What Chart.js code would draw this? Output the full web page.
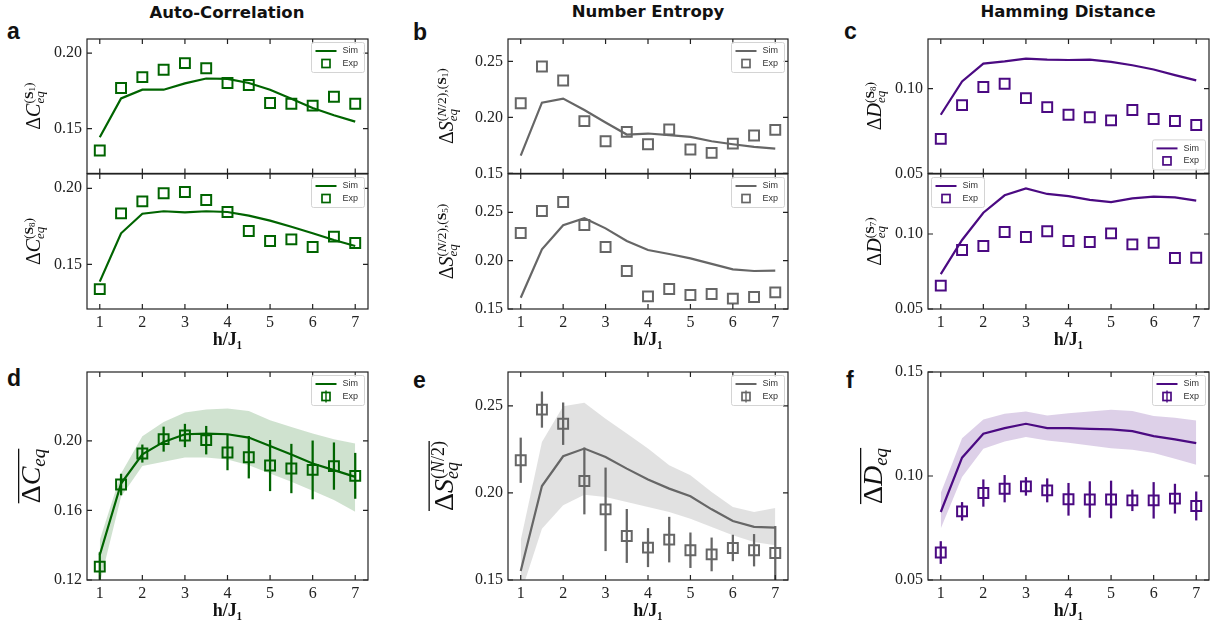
<!DOCTYPE html>
<html>
<head>
<meta charset="utf-8">
<title>Auto-Correlation, Number Entropy, Hamming Distance</title>
<script src="https://cdn.jsdelivr.net/npm/chart.js"></script>
<style>
  body { margin: 0; background: #fff; width: 1219px; height: 627px; position: relative; overflow: hidden; }
  .head { position: absolute; width: 300px; text-align: center; line-height: 18px;
          font: bold 16.5px 'DejaVu Sans', 'Liberation Sans', sans-serif; color: #111; }
  .tag { position: absolute; line-height: 23px; font: bold 23px 'Liberation Sans', Arial, sans-serif; color: #111; }
  canvas { position: absolute; }
</style>
</head>
<body>
<div class="head" style="left:77px; top:3px;">Auto-Correlation</div>
<div class="head" style="left:498px; top:2px;">Number Entropy</div>
<div class="head" style="left:918px; top:2px;">Hamming Distance</div>
<div class="tag" style="left:7px; top:18px;">a</div>
<div class="tag" style="left:413px; top:19px;">b</div>
<div class="tag" style="left:844px; top:18px;">c</div>
<div class="tag" style="left:7px; top:365px;">d</div>
<div class="tag" style="left:413px; top:367px;">e</div>
<div class="tag" style="left:846px; top:367px;">f</div>
<script>
// x values (h/J1) and tick labels
var hJ = [1, 1.5, 2, 2.5, 3, 3.5, 4, 4.5, 5, 5.5, 6, 6.5, 7];
var xTicks = [1, 2, 3, 4, 5, 6, 7];

// auto-correlation
var simC1 = [0.1443, 0.1700, 0.1758, 0.1758, 0.1800, 0.1832, 0.1830, 0.1802, 0.1758, 0.1698, 0.1637, 0.1588, 0.1546];
var expC1 = [0.1355, 0.1769, 0.1841, 0.1890, 0.1934, 0.1900, 0.1802, 0.1789, 0.1670, 0.1665, 0.1652, 0.1711, 0.1665];
var simC8 = [0.1386, 0.1704, 0.1833, 0.1849, 0.1842, 0.1849, 0.1844, 0.1820, 0.1787, 0.1747, 0.1704, 0.1660, 0.1620];
var expC8 = [0.1337, 0.1835, 0.1914, 0.1967, 0.1976, 0.1923, 0.1844, 0.1719, 0.1653, 0.1664, 0.1614, 0.1682, 0.1640];
var simCavg = [0.1344, 0.1755, 0.1923, 0.1994, 0.2038, 0.2042, 0.2038, 0.2019, 0.1971, 0.1922, 0.1870, 0.1832, 0.1793];
var simCavgHi = [0.1430, 0.1812, 0.2027, 0.2109, 0.2163, 0.2180, 0.2186, 0.2172, 0.2119, 0.2080, 0.2042, 0.2010, 0.1985];
var simCavgLo = [0.1180, 0.1678, 0.1855, 0.1880, 0.1904, 0.1904, 0.1893, 0.1860, 0.1812, 0.1765, 0.1713, 0.1660, 0.1592];
var expCavg = [0.1277, 0.1749, 0.1927, 0.2010, 0.2031, 0.2004, 0.1933, 0.1906, 0.1858, 0.1841, 0.1833, 0.1855, 0.1799];
var errCavg = [0.0080, 0.0060, 0.0050, 0.0070, 0.0065, 0.0080, 0.0100, 0.0120, 0.0145, 0.0140, 0.0167, 0.0134, 0.0130];

// number entropy
var simS1 = [0.1659, 0.2132, 0.2168, 0.2066, 0.1955, 0.1847, 0.1856, 0.1841, 0.1826, 0.1787, 0.1760, 0.1737, 0.1722];
var expS1 = [0.2126, 0.2455, 0.2329, 0.1967, 0.1787, 0.1871, 0.1760, 0.1892, 0.1713, 0.1683, 0.1766, 0.1838, 0.1889];
var simS5 = [0.1617, 0.2117, 0.2366, 0.2438, 0.2334, 0.2203, 0.2110, 0.2069, 0.2024, 0.1966, 0.1910, 0.1893, 0.1897];
var expS5 = [0.2286, 0.2514, 0.2607, 0.2369, 0.2141, 0.1893, 0.1631, 0.1707, 0.1645, 0.1655, 0.1607, 0.1624, 0.1672];
var simSavg = [0.1552, 0.2040, 0.2211, 0.2255, 0.2207, 0.2140, 0.2077, 0.2025, 0.1981, 0.1906, 0.1839, 0.1805, 0.1801];
var simSavgHi = [0.1728, 0.2293, 0.2498, 0.2519, 0.2427, 0.2341, 0.2255, 0.2159, 0.2102, 0.2006, 0.1920, 0.1891, 0.1914];
var simSavgLo = [0.1420, 0.1795, 0.1929, 0.1990, 0.1977, 0.1948, 0.1920, 0.1891, 0.1852, 0.1805, 0.1757, 0.1718, 0.1699];
var expSavg = [0.2188, 0.2479, 0.2398, 0.2069, 0.1906, 0.1753, 0.1686, 0.1732, 0.1671, 0.1647, 0.1684, 0.1671, 0.1655];
var errSavg = [0.0128, 0.0102, 0.0120, 0.0190, 0.0238, 0.0153, 0.0110, 0.0129, 0.0100, 0.0095, 0.0074, 0.0091, 0.0153];

// hamming distance
var simD8 = [0.0846, 0.1043, 0.1148, 0.1161, 0.1177, 0.1171, 0.1169, 0.1171, 0.1158, 0.1138, 0.1113, 0.1080, 0.1049];
var expD8 = [0.0704, 0.0903, 0.1010, 0.1029, 0.0944, 0.0891, 0.0846, 0.0831, 0.0813, 0.0874, 0.0821, 0.0809, 0.0786];
var simD7 = [0.0733, 0.0960, 0.1142, 0.1258, 0.1304, 0.1267, 0.1253, 0.1227, 0.1213, 0.1238, 0.1249, 0.1244, 0.1222];
var expD7 = [0.0656, 0.0893, 0.0920, 0.1013, 0.0980, 0.1018, 0.0953, 0.0947, 0.1004, 0.0931, 0.0942, 0.0840, 0.0842];
var simDavg = [0.0827, 0.1088, 0.1203, 0.1230, 0.1251, 0.1230, 0.1230, 0.1227, 0.1224, 0.1216, 0.1192, 0.1176, 0.1158];
var simDavgHi = [0.0918, 0.1182, 0.1272, 0.1299, 0.1310, 0.1291, 0.1302, 0.1310, 0.1318, 0.1312, 0.1288, 0.1280, 0.1267];
var simDavgLo = [0.0747, 0.0995, 0.1131, 0.1166, 0.1187, 0.1171, 0.1160, 0.1147, 0.1134, 0.1126, 0.1110, 0.1083, 0.1054];
var expDavg = [0.0632, 0.0830, 0.0918, 0.0939, 0.0950, 0.0931, 0.0888, 0.0887, 0.0887, 0.0883, 0.0883, 0.0891, 0.0856];
var errDavg = [0.0053, 0.0043, 0.0064, 0.0064, 0.0043, 0.0056, 0.0077, 0.0086, 0.0089, 0.0050, 0.0086, 0.0070, 0.0068];

// y tick labels
var yTicksC = [0.15, 0.20];
var yTicksCavg = [0.12, 0.16, 0.20];
var yTicksS = [0.15, 0.20, 0.25];
var yTicksD = [0.05, 0.10];
var yTicksDavg = [0.05, 0.10, 0.15];

var GREEN = '#006400', GRAY = '#666666', PURPLE = '#4b0a82';
var SERIF = "'Liberation Serif', 'DejaVu Serif', serif";
var SANS = "'Liberation Sans', Arial, sans-serif";

// plot area edges in page pixels
var COLS = [[87, 368], [508, 788], [928, 1209]];
var ROWS = [[39, 174], [174, 309], [372, 580]];
var PAD_L = 80, PAD_T = 20, PAD_R = 12;

function F(size, style) {
  return (style ? style + ' ' : '') + size + 'px ' + SERIF;
}

// superscript "(S_n)"
function supS(n, size, dy) {
  return [
    {t: '(', f: F(size), dy: dy},
    {t: 'S', f: F(size, 'bold'), dy: dy},
    {t: n, f: F(Math.round(size * 0.7)), dy: dy - 2},
    {t: ')', f: F(size), dy: dy}
  ];
}

function topLabel(sym, sup) {
  return [{t: 'Δ', f: F(20)}, {t: sym, f: F(20, 'italic')}, {mark: 1}]
    .concat(sup, [{back: 1}, {t: 'eq', f: F(13, 'italic'), dy: -4}]);
}

function entropySup(n) {
  return [{t: '(', f: F(13.5), dy: 7}, {t: 'N', f: F(13.5, 'italic'), dy: 7}, {t: '/2),', f: F(13.5), dy: 7}]
    .concat(supS(n, 13.5, 7));
}

// rotated label with sub/superscripts
function drawMath(ctx, parts, bx, cy, over) {
  var x = 0, mark = 0, maxX = 0, placed = [];
  parts.forEach(function(p) {
    if (p.mark) { mark = x; return; }
    if (p.back) { x = mark; return; }
    ctx.font = p.f;
    placed.push({p: p, x: x});
    x += ctx.measureText(p.t).width;
    maxX = Math.max(maxX, x);
  });
  ctx.save();
  ctx.translate(bx, cy);
  ctx.rotate(-Math.PI / 2);
  ctx.fillStyle = '#111';
  ctx.textBaseline = 'alphabetic';
  var x0 = -maxX / 2;
  placed.forEach(function(it) {
    ctx.font = it.p.f;
    ctx.fillText(it.p.t, x0 + it.x, -(it.p.dy || 0));
  });
  if (over) ctx.fillRect(x0, -over, maxX, 1.3);
  ctx.restore();
}

function drawLegend(ctx, a, lg) {
  var w = 53, h = 30, inset = 3.5;
  var bx = lg.corner.indexOf('e') >= 0 ? a.right - inset - w : a.left + inset;
  var by = lg.corner.indexOf('n') >= 0 ? a.top + inset : a.bottom - inset - h;
  ctx.save();
  ctx.beginPath();
  if (ctx.roundRect) ctx.roundRect(bx, by, w, h, 2); else ctx.rect(bx, by, w, h);
  ctx.fillStyle = 'rgba(255,255,255,0.8)';
  ctx.fill();
  ctx.strokeStyle = '#d4d4d4';
  ctx.lineWidth = 1;
  ctx.stroke();
  ctx.strokeStyle = lg.color;
  ctx.lineWidth = 2;
  ctx.beginPath();
  ctx.moveTo(bx + 4, by + 8.5);
  ctx.lineTo(bx + 25, by + 8.5);
  ctx.stroke();
  var cx = bx + 14.5, cy = by + 21;
  ctx.lineWidth = 1.7;
  ctx.strokeRect(cx - 4, cy - 4, 8, 8);
  if (lg.err) {
    ctx.lineWidth = 1.4;
    ctx.beginPath();
    ctx.moveTo(cx, cy - 6);
    ctx.lineTo(cx, cy + 6);
    ctx.stroke();
  }
  ctx.fillStyle = '#333';
  ctx.font = '9px ' + SANS;
  ctx.textBaseline = 'middle';
  ctx.fillText('Sim', bx + 31, by + 8.5);
  ctx.fillText('Exp', bx + 31, by + 21);
  ctx.restore();
}

// box frame with inward ticks on all sides, legend and y label
var decor = {
  id: 'decor',
  afterDraw: function(chart, args, opts) {
    var ctx = chart.ctx, a = chart.chartArea;
    var xs = chart.scales.x, ys = chart.scales.y;
    ctx.save();
    ctx.strokeStyle = '#222';
    ctx.lineWidth = 1.2;
    ctx.beginPath();
    xs.ticks.forEach(function(t) {
      var px = xs.getPixelForValue(t.value);
      ctx.moveTo(px, a.bottom); ctx.lineTo(px, a.bottom - 5);
      ctx.moveTo(px, a.top); ctx.lineTo(px, a.top + 5);
    });
    ys.ticks.forEach(function(t) {
      var py = ys.getPixelForValue(t.value);
      ctx.moveTo(a.left, py); ctx.lineTo(a.left + 5, py);
      ctx.moveTo(a.right, py); ctx.lineTo(a.right - 5, py);
    });
    ctx.stroke();
    ctx.strokeRect(a.left, a.top, a.right - a.left, a.bottom - a.top);
    ctx.restore();
    drawLegend(ctx, a, opts.legend);
    drawMath(ctx, opts.label, a.left + opts.labelDx, (a.top + a.bottom) / 2, opts.over);
  }
};

function pts(ys) {
  return hJ.map(function(x, i) { return {x: x, y: ys[i]}; });
}

function panel(cfg) {
  var l = COLS[cfg.col][0], r = COLS[cfg.col][1];
  var t = ROWS[cfg.row][0], b = ROWS[cfg.row][1];
  var labeled = cfg.row > 0;
  var xH = labeled ? 42 : 14;
  var cv = document.createElement('canvas');
  cv.width = r - l + PAD_L + PAD_R;
  cv.height = b - t + PAD_T + xH;
  cv.style.left = (l - PAD_L) + 'px';
  cv.style.top = (t - PAD_T) + 'px';
  document.body.appendChild(cv);

  var ds = [];
  ds.push({
    type: 'line', label: 'Exp', data: pts(cfg.exp), showLine: false,
    pointStyle: 'rect', pointRadius: 7, pointBorderWidth: 2,
    pointBorderColor: cfg.color, pointBackgroundColor: 'rgba(0,0,0,0)'
  });
  if (cfg.err) {
    ds.push({
      type: 'bar', label: 'err',
      data: hJ.map(function(x, i) { return {x: x, y: [cfg.exp[i] - cfg.err[i], cfg.exp[i] + cfg.err[i]]}; }),
      backgroundColor: cfg.color, barThickness: 1.6, borderWidth: 0
    });
  }
  ds.push({
    type: 'line', label: 'Sim', data: pts(cfg.sim), borderColor: cfg.color,
    borderWidth: 2.2, pointRadius: 0, fill: false, tension: 0
  });
  if (cfg.hi) {
    ds.push({type: 'line', label: 'hi', data: pts(cfg.hi), borderColor: 'rgba(0,0,0,0)', borderWidth: 1,
             pointRadius: 0, fill: '+1', backgroundColor: cfg.band});
    ds.push({type: 'line', label: 'lo', data: pts(cfg.lo), borderColor: 'rgba(0,0,0,0)', borderWidth: 1,
             pointRadius: 0, fill: false});
  }

  new Chart(cv, {
    type: 'line',
    data: {datasets: ds},
    plugins: [decor],
    options: {
      responsive: false,
      animation: false,
      events: [],
      layout: {padding: {left: 0, top: PAD_T, right: PAD_R, bottom: 0}},
      scales: {
        x: {
          type: 'linear', min: 0.7, max: 7.3, offset: false,
          grid: {display: false, drawTicks: false, offset: false},
          border: {display: false},
          afterBuildTicks: function(s) { s.ticks = xTicks.map(function(v) { return {value: v}; }); },
          afterFit: function(s) { s.height = xH; },
          ticks: {display: labeled, padding: 4, color: '#222', font: {family: SERIF, size: 16},
                  callback: function(v) { return String(v); }},
          title: {display: labeled, text: 'h/J₁', color: '#111', padding: {top: 0, bottom: 0},
                  font: {family: SERIF, size: 18, weight: 'bold'}}
        },
        y: {
          type: 'linear', min: cfg.yMin, max: cfg.yMax,
          grid: {display: false, drawTicks: false},
          border: {display: false},
          afterBuildTicks: function(s) { s.ticks = cfg.yTicks.map(function(v) { return {value: v}; }); },
          afterFit: function(s) { s.width = PAD_L; },
          ticks: {padding: 5, color: '#222', font: {family: SERIF, size: 16},
                  callback: function(v) { return v.toFixed(2); }}
        }
      },
      plugins: {
        legend: {display: false},
        tooltip: {enabled: false},
        decor: {
          legend: {corner: cfg.corner || 'ne', color: cfg.color, err: !!cfg.err},
          label: cfg.label, labelDx: cfg.labelDx, over: cfg.over
        }
      }
    }
  });
}

panel({col: 0, row: 0, yMin: 0.1203, yMax: 0.2094, yTicks: yTicksC, color: GREEN,
       sim: simC1, exp: expC1, label: topLabel('C', supS('1', 13.5, 7)), labelDx: -47});
panel({col: 0, row: 1, yMin: 0.1206, yMax: 0.2094, yTicks: yTicksC, color: GREEN,
       sim: simC8, exp: expC8, label: topLabel('C', supS('8', 13.5, 7)), labelDx: -47});
panel({col: 0, row: 2, yMin: 0.12, yMax: 0.2396, yTicks: yTicksCavg, color: GREEN,
       sim: simCavg, exp: expCavg, err: errCavg, hi: simCavgHi, lo: simCavgLo, band: 'rgba(0,100,0,0.19)',
       label: [{t: 'Δ', f: F(28)}, {t: 'C', f: F(28, 'italic')}, {t: 'eq', f: F(19, 'italic'), dy: -5}],
       labelDx: -47, over: 22});

panel({col: 1, row: 0, yMin: 0.15, yMax: 0.270, yTicks: yTicksS, color: GRAY,
       sim: simS1, exp: expS1, label: topLabel('S', entropySup('1')), labelDx: -55});
panel({col: 1, row: 1, yMin: 0.15, yMax: 0.2896, yTicks: yTicksS, color: GRAY,
       sim: simS5, exp: expS5, label: topLabel('S', entropySup('5')), labelDx: -55});
panel({col: 1, row: 2, yMin: 0.15, yMax: 0.2695, yTicks: yTicksS, color: GRAY,
       sim: simSavg, exp: expSavg, err: errSavg, hi: simSavgHi, lo: simSavgLo, band: 'rgba(120,120,120,0.22)',
       label: [{t: 'Δ', f: F(28)}, {t: 'S', f: F(28, 'italic')}, {mark: 1},
               {t: '(', f: F(18), dy: 9}, {t: 'N', f: F(18, 'italic'), dy: 9}, {t: '/2)', f: F(18), dy: 9},
               {back: 1}, {t: 'eq', f: F(18, 'italic'), dy: -5}],
       labelDx: -55, over: 24.5});

panel({col: 2, row: 0, yMin: 0.05, yMax: 0.1293, yTicks: yTicksD, color: PURPLE, corner: 'se',
       sim: simD8, exp: expD8, label: topLabel('D', supS('8', 13.5, 7)), labelDx: -47});
panel({col: 2, row: 1, yMin: 0.05, yMax: 0.14, yTicks: yTicksD, color: PURPLE, corner: 'nw',
       sim: simD7, exp: expD7, label: topLabel('D', supS('7', 13.5, 7)), labelDx: -47});
panel({col: 2, row: 2, yMin: 0.05, yMax: 0.15, yTicks: yTicksDavg, color: PURPLE,
       sim: simDavg, exp: expDavg, err: errDavg, hi: simDavgHi, lo: simDavgLo, band: 'rgba(85,20,140,0.2)',
       label: [{t: 'Δ', f: F(28)}, {t: 'D', f: F(28, 'italic')}, {t: 'eq', f: F(19, 'italic'), dy: -5}],
       labelDx: -46, over: 22});
</script>
</body>
</html>
